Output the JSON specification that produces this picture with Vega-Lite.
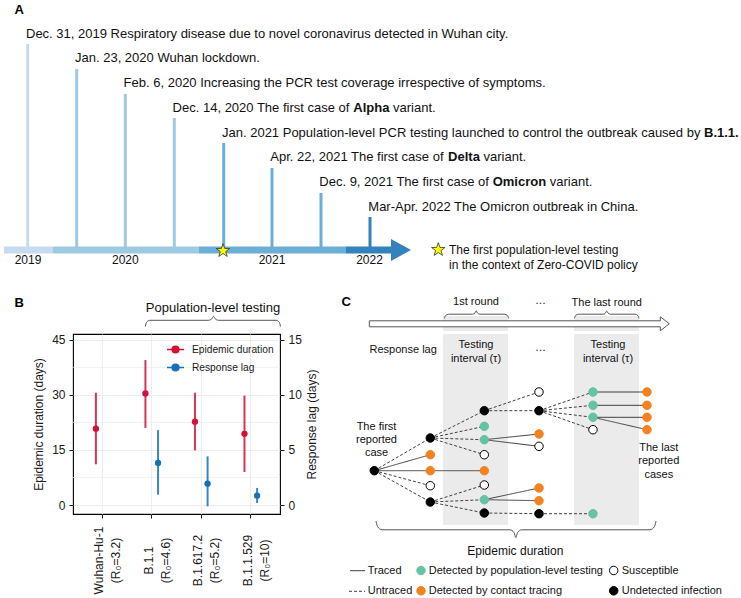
{
  "$schema": "https://vega.github.io/schema/vega-lite/v6.json",
  "padding": 0,
  "spacing": 0,
  "background": "#ffffff",
  "config": {
    "font": "Liberation Sans",
    "view": {"stroke": null},
    "axis": {"labelColor": "#1a1a1a", "titleColor": "#1a1a1a", "tickColor": "#1a1a1a", "titleFontWeight": "normal"}
  },
  "resolve": {"scale": {"color": "independent", "fill": "independent", "stroke": "independent", "strokeDash": "independent"}, "legend": {"color": "independent"}},
  "datasets": {
    "a_bandtops": [
      {"x": 442, "x2": 507, "y": 316, "y2": 331},
      {"x": 573, "x2": 638, "y": 316, "y2": 331}
    ],
    "a_bar": [
      {"period": "2019", "x": 3, "x2": 51.5, "y": 250},
      {"period": "2020", "x": 51.5, "x2": 198, "y": 250},
      {"period": "2021", "x": 198, "x2": 345, "y": 250},
      {"period": "2022", "x": 345, "x2": 392, "y": 250}
    ],
    "a_events": [
      {"period": "2019", "x": 26.7, "y": 44, "y2": 250},
      {"period": "2020", "x": 75.7, "y": 69, "y2": 250},
      {"period": "2020", "x": 124.3, "y": 94, "y2": 250},
      {"period": "2020", "x": 173.3, "y": 118, "y2": 250},
      {"period": "2021", "x": 222.7, "y": 143, "y2": 250},
      {"period": "2021", "x": 271, "y": 168, "y2": 250},
      {"period": "2021", "x": 320, "y": 193, "y2": 250},
      {"period": "2022", "x": 369, "y": 217, "y2": 250}
    ],
    "a_arrowhead": [{"period": "2022", "x": 400, "y": 250}],
    "a_stars": [{"x": 222, "y": 250.7}, {"x": 437.3, "y": 249.7}],
    "a_text": [
      {"x": 25, "y": 33.5, "label": "Dec. 31, 2019 Respiratory disease due to novel coronavirus detected in Wuhan city."},
      {"x": 74, "y": 58.3, "label": "Jan. 23, 2020 Wuhan lockdown."},
      {"x": 122.6, "y": 83, "label": "Feb. 6, 2020 Increasing the PCR test coverage irrespective of symptoms."},
      {"x": 171.6, "y": 107.8, "label": "Dec. 14, 2020 The first case of"},
      {"x": 392, "y": 107.8, "label": "variant."},
      {"x": 221, "y": 132.5, "label": "Jan. 2021 Population-level PCR testing launched to control the outbreak caused by"},
      {"x": 269.3, "y": 157.2, "label": "Apr. 22, 2021 The first case of"},
      {"x": 482.5, "y": 157.2, "label": "variant."},
      {"x": 318.3, "y": 182, "label": "Dec. 9, 2021 The first case of"},
      {"x": 548.8, "y": 182, "label": "variant."},
      {"x": 367.3, "y": 206.7, "label": "Mar-Apr. 2022 The Omicron outbreak in China."}
    ],
    "a_bold": [
      {"x": 352.3, "y": 107.8, "label": "Alpha"},
      {"x": 703, "y": 132.5, "label": "B.1.1."},
      {"x": 447.1, "y": 157.2, "label": "Delta"},
      {"x": 491.7, "y": 182, "label": "Omicron"}
    ],
    "a_years": [
      {"x": 27, "y": 260, "label": "2019"},
      {"x": 124.3, "y": 260, "label": "2020"},
      {"x": 271, "y": 260, "label": "2021"},
      {"x": 368.5, "y": 260, "label": "2022"}
    ],
    "a_notes": [
      {"x": 448, "y": 249.5, "label": "The first population-level testing"},
      {"x": 448, "y": 265, "label": "in the context of Zero-COVID policy"}
    ],
    "a_letters": [
      {"x": 13.5, "y": 9.5, "label": "A"},
      {"x": 13.5, "y": 302.7, "label": "B"},
      {"x": 340.5, "y": 302, "label": "C"}
    ],
    "a_poptitle": [{"x": 212, "y": 307.7, "label": "Population-level testing"}],
    "a_cheaders": [
      {"x": 475, "y": 302, "label": "1st round"},
      {"x": 539.5, "y": 301, "label": "…"},
      {"x": 605.7, "y": 303, "label": "The last round"}
    ],
    "a_braces": [
      {"brace": "pop", "x": 144.3, "y": 326.5}, {"brace": "pop", "x": 145.6, "y": 322.2}, {"brace": "pop", "x": 149, "y": 320.3},
      {"brace": "pop", "x": 207.5, "y": 320.3}, {"brace": "pop", "x": 210.8, "y": 318.8}, {"brace": "pop", "x": 212.5, "y": 316.3},
      {"brace": "pop", "x": 214.2, "y": 318.8}, {"brace": "pop", "x": 217.5, "y": 320.3}, {"brace": "pop", "x": 275, "y": 320.3},
      {"brace": "pop", "x": 278.3, "y": 322.2}, {"brace": "pop", "x": 279.5, "y": 326.5},
      {"brace": "r1", "x": 443.3, "y": 318.5}, {"brace": "r1", "x": 444.5, "y": 315.6}, {"brace": "r1", "x": 447.5, "y": 314.2},
      {"brace": "r1", "x": 471.5, "y": 314.2}, {"brace": "r1", "x": 474, "y": 312.9}, {"brace": "r1", "x": 475.2, "y": 310.8},
      {"brace": "r1", "x": 476.4, "y": 312.9}, {"brace": "r1", "x": 479, "y": 314.2}, {"brace": "r1", "x": 503.5, "y": 314.2},
      {"brace": "r1", "x": 506.5, "y": 315.6}, {"brace": "r1", "x": 507.7, "y": 318.5},
      {"brace": "rl", "x": 573.3, "y": 318.5}, {"brace": "rl", "x": 574.5, "y": 315.6}, {"brace": "rl", "x": 577.5, "y": 314.2},
      {"brace": "rl", "x": 602, "y": 314.2}, {"brace": "rl", "x": 604.5, "y": 312.9}, {"brace": "rl", "x": 605.7, "y": 311},
      {"brace": "rl", "x": 606.9, "y": 312.9}, {"brace": "rl", "x": 609.4, "y": 314.2}, {"brace": "rl", "x": 634, "y": 314.2},
      {"brace": "rl", "x": 636.9, "y": 315.6}, {"brace": "rl", "x": 638, "y": 318.5}
    ],
    "a_arrowc": [{"x": 518.3, "y": 323.8}],
    "b_minor": [{"v": 7.5}, {"v": 22.5}, {"v": 37.5}],
    "b_data": [
      {"xlabel": "Wuhan-Hu-1 (R₀=3.2)", "series": "Epidemic duration", "mid": 20.8, "lo": 11.1, "hi": 30.6},
      {"xlabel": "B.1.1 (R₀=4.6)", "series": "Epidemic duration", "mid": 30.4, "lo": 21.0, "hi": 39.5},
      {"xlabel": "B.1.617.2 (R₀=5.2)", "series": "Epidemic duration", "mid": 22.7, "lo": 14.9, "hi": 30.6},
      {"xlabel": "B.1.1.529 (R₀=10)", "series": "Epidemic duration", "mid": 19.4, "lo": 9.0, "hi": 29.8},
      {"xlabel": "B.1.1 (R₀=4.6)", "series": "Response lag", "mid": 3.82, "lo": 0.94, "hi": 6.8},
      {"xlabel": "B.1.617.2 (R₀=5.2)", "series": "Response lag", "mid": 1.94, "lo": -0.12, "hi": 4.42},
      {"xlabel": "B.1.1.529 (R₀=10)", "series": "Response lag", "mid": 0.85, "lo": 0.18, "hi": 1.55}
    ],
    "c_bands": [
      {"x": 442, "x2": 507, "y": 331, "y2": 522},
      {"x": 573, "x2": 638, "y": 331, "y2": 522}
    ],
    "c_edges": [
      {"x": 373.3, "y": 467.7, "x2": 429.3, "y2": 435, "type": "Untraced"},
      {"x": 373.3, "y": 467.7, "x2": 429.3, "y2": 451.7, "type": "Traced"},
      {"x": 373.3, "y": 467.7, "x2": 429.3, "y2": 467.7, "type": "Traced"},
      {"x": 373.3, "y": 467.7, "x2": 429.3, "y2": 482.7, "type": "Untraced"},
      {"x": 373.3, "y": 467.7, "x2": 429.3, "y2": 499, "type": "Untraced"},
      {"x": 429.3, "y": 435, "x2": 483.3, "y2": 407.7, "type": "Untraced"},
      {"x": 429.3, "y": 435, "x2": 483.3, "y2": 423.3, "type": "Untraced"},
      {"x": 429.3, "y": 435, "x2": 483.3, "y2": 436.7, "type": "Untraced"},
      {"x": 429.3, "y": 435, "x2": 483.3, "y2": 451.7, "type": "Untraced"},
      {"x": 429.3, "y": 467.7, "x2": 483.3, "y2": 467.7, "type": "Traced"},
      {"x": 429.3, "y": 499, "x2": 483.3, "y2": 482, "type": "Untraced"},
      {"x": 429.3, "y": 499, "x2": 483.3, "y2": 496.7, "type": "Untraced"},
      {"x": 429.3, "y": 499, "x2": 483.3, "y2": 510, "type": "Untraced"},
      {"x": 483.3, "y": 407.7, "x2": 538, "y2": 389, "type": "Untraced"},
      {"x": 483.3, "y": 407.7, "x2": 538, "y2": 407.7, "type": "Untraced"},
      {"x": 483.3, "y": 436.7, "x2": 538, "y2": 431, "type": "Traced"},
      {"x": 483.3, "y": 436.7, "x2": 538, "y2": 443.3, "type": "Traced"},
      {"x": 483.3, "y": 496.7, "x2": 538, "y2": 485, "type": "Traced"},
      {"x": 483.3, "y": 496.7, "x2": 538, "y2": 497.7, "type": "Traced"},
      {"x": 483.3, "y": 510, "x2": 538, "y2": 510.7, "type": "Untraced"},
      {"x": 538, "y": 407.7, "x2": 592, "y2": 389, "type": "Untraced"},
      {"x": 538, "y": 407.7, "x2": 592, "y2": 402.3, "type": "Untraced"},
      {"x": 538, "y": 407.7, "x2": 592, "y2": 414.3, "type": "Untraced"},
      {"x": 538, "y": 407.7, "x2": 592, "y2": 426.7, "type": "Untraced"},
      {"x": 538, "y": 510.7, "x2": 592, "y2": 510.7, "type": "Untraced"},
      {"x": 592, "y": 389, "x2": 646, "y2": 389, "type": "Traced"},
      {"x": 592, "y": 402.3, "x2": 646, "y2": 402.3, "type": "Traced"},
      {"x": 592, "y": 414.3, "x2": 646, "y2": 414.3, "type": "Traced"},
      {"x": 592, "y": 414.3, "x2": 646, "y2": 426.7, "type": "Traced"}
    ],
    "c_nodes": [
      {"x": 373.3, "y": 467.7, "status": "Undetected infection"},
      {"x": 429.3, "y": 435, "status": "Undetected infection"},
      {"x": 429.3, "y": 451.7, "status": "Detected by contact tracing"},
      {"x": 429.3, "y": 467.7, "status": "Detected by contact tracing"},
      {"x": 429.3, "y": 482.7, "status": "Susceptible"},
      {"x": 429.3, "y": 499, "status": "Undetected infection"},
      {"x": 483.3, "y": 407.7, "status": "Undetected infection"},
      {"x": 483.3, "y": 423.3, "status": "Detected by population-level testing"},
      {"x": 483.3, "y": 436.7, "status": "Detected by population-level testing"},
      {"x": 483.3, "y": 451.7, "status": "Susceptible"},
      {"x": 483.3, "y": 467.7, "status": "Detected by contact tracing"},
      {"x": 483.3, "y": 482, "status": "Susceptible"},
      {"x": 483.3, "y": 496.7, "status": "Detected by population-level testing"},
      {"x": 483.3, "y": 510, "status": "Undetected infection"},
      {"x": 538, "y": 389, "status": "Susceptible"},
      {"x": 538, "y": 407.7, "status": "Undetected infection"},
      {"x": 538, "y": 431, "status": "Detected by contact tracing"},
      {"x": 538, "y": 443.3, "status": "Susceptible"},
      {"x": 538, "y": 485, "status": "Detected by contact tracing"},
      {"x": 538, "y": 497.7, "status": "Detected by contact tracing"},
      {"x": 538, "y": 510.7, "status": "Undetected infection"},
      {"x": 592, "y": 389, "status": "Detected by population-level testing"},
      {"x": 592, "y": 402.3, "status": "Detected by population-level testing"},
      {"x": 592, "y": 414.3, "status": "Detected by population-level testing"},
      {"x": 592, "y": 426.7, "status": "Susceptible"},
      {"x": 592, "y": 510.7, "status": "Detected by population-level testing"},
      {"x": 646, "y": 389, "status": "Detected by contact tracing"},
      {"x": 646, "y": 402.3, "status": "Detected by contact tracing"},
      {"x": 646, "y": 414.3, "status": "Detected by contact tracing"},
      {"x": 646, "y": 426.7, "status": "Detected by contact tracing"}
    ],
    "c_text": [
      {"x": 402.2, "y": 347, "label": "Response lag"},
      {"x": 475, "y": 342.3, "label": "Testing"},
      {"x": 475, "y": 355.7, "label": "interval (τ)"},
      {"x": 607, "y": 342.3, "label": "Testing"},
      {"x": 607, "y": 355.7, "label": "interval (τ)"},
      {"x": 539.5, "y": 344.5, "label": "…"},
      {"x": 375.5, "y": 424, "label": "The first"},
      {"x": 375.5, "y": 436.7, "label": "reported"},
      {"x": 375.5, "y": 450, "label": "case"},
      {"x": 657.8, "y": 445, "label": "The last"},
      {"x": 657.8, "y": 458.3, "label": "reported"},
      {"x": 657.8, "y": 471.7, "label": "cases"}
    ],
    "c_epi": [{"x": 514.3, "y": 547.7, "label": "Epidemic duration"}],
    "c_brace": [
      {"x": 375, "y": 518}, {"x": 376.5, "y": 523.5}, {"x": 381, "y": 526.8}, {"x": 509, "y": 526.8},
      {"x": 513, "y": 529.5}, {"x": 514.8, "y": 534.5}, {"x": 516.6, "y": 529.5}, {"x": 520.6, "y": 526.8},
      {"x": 649, "y": 526.8}, {"x": 653.5, "y": 523.5}, {"x": 655, "y": 518}
    ],
    "c_legend_lines": [
      {"x": 349, "x2": 364, "y": 567.7, "type": "Traced"},
      {"x": 348, "x2": 364, "y": 588.3, "type": "Untraced"}
    ],
    "c_legend_nodes": [
      {"x": 420, "y": 567.5, "status": "Detected by population-level testing"},
      {"x": 420, "y": 587.8, "status": "Detected by contact tracing"},
      {"x": 612.7, "y": 567.5, "status": "Susceptible"},
      {"x": 612.7, "y": 587.8, "status": "Undetected infection"}
    ],
    "c_legend_text": [
      {"x": 366.7, "y": 567.7, "label": "Traced"},
      {"x": 366.7, "y": 588.3, "label": "Untraced"},
      {"x": 427.7, "y": 567.7, "label": "Detected by population-level testing"},
      {"x": 427.7, "y": 588.3, "label": "Detected by contact tracing"},
      {"x": 620.7, "y": 567.7, "label": "Susceptible"},
      {"x": 620.7, "y": 588.3, "label": "Undetected infection"}
    ]
  },
  "vconcat": [
    {
      "width": 741,
      "height": 331,
      "encoding": {
        "x": {"field": "x", "type": "quantitative", "scale": {"domain": [0, 741], "nice": false, "zero": false}, "axis": null},
        "y": {"field": "y", "type": "quantitative", "scale": {"domain": [0, 331], "nice": false, "zero": false, "reverse": true}, "axis": null}
      },
      "layer": [
        {"data": {"name": "a_bandtops"}, "mark": {"type": "rect", "color": "#ebebeb"}, "encoding": {"x2": {"field": "x2"}, "y2": {"field": "y2"}}},
        {"data": {"name": "a_events"}, "mark": {"type": "rule", "strokeWidth": 3},
         "encoding": {"y2": {"field": "y2"}, "color": {"field": "period", "type": "nominal", "scale": {"domain": ["2019", "2020", "2021", "2022"], "range": ["#c6dbef", "#9ecae1", "#6baed6", "#3182bd"]}, "legend": null}}},
        {"data": {"name": "a_bar"}, "mark": {"type": "rule", "strokeWidth": 7},
         "encoding": {"x2": {"field": "x2"}, "color": {"field": "period", "type": "nominal", "scale": {"domain": ["2019", "2020", "2021", "2022"], "range": ["#c6dbef", "#9ecae1", "#6baed6", "#3182bd"]}, "legend": null}}},
        {"data": {"name": "a_arrowhead"}, "mark": {"type": "point", "shape": "M-1,-1.1L1,0L-1,1.1Z", "size": 400, "filled": true, "opacity": 1},
         "encoding": {"color": {"field": "period", "type": "nominal", "scale": {"domain": ["2019", "2020", "2021", "2022"], "range": ["#c6dbef", "#9ecae1", "#6baed6", "#3182bd"]}, "legend": null}}},
        {"data": {"name": "a_stars"}, "mark": {"type": "point", "shape": "M0,-1L0.235,-0.324L0.951,-0.309L0.38,0.124L0.588,0.809L0,0.4L-0.588,0.809L-0.38,0.124L-0.951,-0.309L-0.235,-0.324Z", "size": 200, "filled": true, "fill": "#ffff00", "stroke": "#333333", "strokeWidth": 0.8, "opacity": 1}},
        {"data": {"name": "a_text"}, "mark": {"type": "text", "align": "left", "baseline": "middle", "fontSize": 13, "color": "#111111"}, "encoding": {"text": {"field": "label"}}},
        {"data": {"name": "a_bold"}, "mark": {"type": "text", "align": "left", "baseline": "middle", "fontSize": 13, "fontWeight": "bold", "color": "#111111"}, "encoding": {"text": {"field": "label"}}},
        {"data": {"name": "a_years"}, "mark": {"type": "text", "align": "center", "baseline": "middle", "fontSize": 12, "color": "#111111"}, "encoding": {"text": {"field": "label"}}},
        {"data": {"name": "a_notes"}, "mark": {"type": "text", "align": "left", "baseline": "middle", "fontSize": 12, "color": "#111111"}, "encoding": {"text": {"field": "label"}}},
        {"data": {"name": "a_letters"}, "mark": {"type": "text", "align": "left", "baseline": "middle", "fontSize": 13, "fontWeight": "bold", "color": "#000000"}, "encoding": {"text": {"field": "label"}}},
        {"data": {"name": "a_poptitle"}, "mark": {"type": "text", "align": "center", "baseline": "middle", "fontSize": 13, "color": "#111111"}, "encoding": {"text": {"field": "label"}}},
        {"data": {"name": "a_cheaders"}, "mark": {"type": "text", "align": "center", "baseline": "middle", "fontSize": 11, "color": "#111111"}, "encoding": {"text": {"field": "label"}}},
        {"data": {"name": "a_braces"}, "mark": {"type": "line", "interpolate": "monotone", "color": "#555555", "strokeWidth": 1}, "encoding": {"detail": {"field": "brace"}}},
        {"data": {"name": "a_arrowc"}, "mark": {"type": "point", "shape": "M-1,-0.02L0.94,-0.02L0.94,-0.0467L1,0L0.94,0.0467L0.94,0.02L-1,0.02Z", "size": 90000, "filled": true, "fill": "#ffffff", "stroke": "#555555", "strokeWidth": 1, "opacity": 1}}
      ]
    },
    {
      "bounds": "flush",
      "spacing": 61,
      "resolve": {"scale": {"color": "independent", "fill": "independent", "stroke": "independent", "strokeDash": "independent"}, "legend": {"color": "independent"}},
      "hconcat": [
        {"width": 11, "height": 267, "data": {"values": [{}]}, "mark": {"type": "point", "opacity": 0}},
        {
          "width": 207,
          "height": 180,
          "view": {"stroke": "#000000", "strokeWidth": 1.1},
          "layer": [
            {
              "layer": [
                {"data": {"name": "b_minor"}, "mark": {"type": "rule", "color": "#ebebeb", "strokeWidth": 0.7},
                 "encoding": {"y": {"field": "v", "type": "quantitative", "scale": {"domain": [-2.45, 46.6], "nice": false, "zero": false},
                   "axis": {"orient": "left", "values": [0, 15, 30, 45], "title": "Epidemic duration (days)", "titleFontSize": 12, "titlePadding": 6, "labelFontSize": 12, "labelPadding": 4, "tickSize": 4, "domain": false, "grid": true, "gridColor": "#ebebeb", "gridWidth": 0.9}}}},
                {"data": {"name": "b_data"}, "transform": [{"filter": "datum.series === 'Epidemic duration'"}],
                 "mark": {"type": "rule", "strokeWidth": 2, "opacity": 0.85},
                 "encoding": {
                   "x": {"field": "xlabel", "type": "nominal", "sort": null, "scale": {"domain": ["Wuhan-Hu-1 (R₀=3.2)", "B.1.1 (R₀=4.6)", "B.1.617.2 (R₀=5.2)", "B.1.1.529 (R₀=10)"], "paddingInner": 0.49, "paddingOuter": 0.335},
                     "axis": {"title": null, "labelAngle": -90, "labelAlign": "center", "labelBaseline": "middle", "labelPadding": 42, "labelFontSize": 12, "labelLineHeight": 17, "labelOffset": -3, "labelExpr": "split(datum.label, ' ')", "labelOverlap": false, "labelBound": false, "tickSize": 4, "domain": false, "grid": true, "gridColor": "#ebebeb", "gridWidth": 0.9}},
                   "xOffset": {"field": "series", "type": "nominal", "scale": {"domain": ["Epidemic duration", "Response lag"]}},
                   "y": {"field": "lo", "type": "quantitative", "scale": {"domain": [-2.45, 46.6], "nice": false, "zero": false},
                     "axis": {"orient": "left", "values": [0, 15, 30, 45], "title": "Epidemic duration (days)", "titleFontSize": 12, "titlePadding": 6, "labelFontSize": 12, "labelPadding": 4, "tickSize": 4, "domain": false, "grid": true, "gridColor": "#ebebeb", "gridWidth": 0.9}},
                   "y2": {"field": "hi"},
                   "color": {"field": "series", "type": "nominal", "scale": {"domain": ["Epidemic duration", "Response lag"], "range": ["#d50f38", "#1572b6"]},
                     "legend": {"title": null, "orient": "top-right", "offset": 6, "padding": 0, "labelFontSize": 10.2, "labelColor": "#1a1a1a", "labelOffset": 7, "rowPadding": 1, "symbolType": "M-1,0H1M0.39,0A0.39,0.39,0,1,1,-0.39,0A0.39,0.39,0,1,1,0.39,0Z", "symbolSize": 289, "symbolStrokeWidth": 1.6, "symbolOpacity": 1,
                       "encode": {"symbols": {"update": {"fill": {"signal": "datum.value === 'Epidemic duration' ? '#d50f38' : '#1572b6'"}, "stroke": {"signal": "datum.value === 'Epidemic duration' ? '#d50f38' : '#1572b6'"}}}}}}
                 }},
                {"data": {"name": "b_data"}, "transform": [{"filter": "datum.series === 'Epidemic duration'"}],
                 "mark": {"type": "point", "filled": true, "size": 40, "opacity": 1},
                 "encoding": {
                   "x": {"field": "xlabel", "type": "nominal", "sort": null, "scale": {"domain": ["Wuhan-Hu-1 (R₀=3.2)", "B.1.1 (R₀=4.6)", "B.1.617.2 (R₀=5.2)", "B.1.1.529 (R₀=10)"], "paddingInner": 0.49, "paddingOuter": 0.335}},
                   "xOffset": {"field": "series", "type": "nominal", "scale": {"domain": ["Epidemic duration", "Response lag"]}},
                   "y": {"field": "mid", "type": "quantitative", "scale": {"domain": [-2.45, 46.6], "nice": false, "zero": false}},
                   "color": {"field": "series", "type": "nominal", "scale": {"domain": ["Epidemic duration", "Response lag"], "range": ["#d50f38", "#1572b6"]}}
                 }}
              ]
            },
            {
              "data": {"name": "b_data"},
              "transform": [{"filter": "datum.series === 'Response lag'"}],
              "layer": [
                {"mark": {"type": "rule", "strokeWidth": 2, "opacity": 0.85},
                 "encoding": {
                   "x": {"field": "xlabel", "type": "nominal", "sort": null},
                   "xOffset": {"field": "series", "type": "nominal"},
                   "y": {"field": "lo", "type": "quantitative", "scale": {"domain": [-0.817, 15.533], "nice": false, "zero": false},
                     "axis": {"orient": "right", "values": [0, 5, 10, 15], "title": "Response lag (days)", "titleAngle": -90, "titleBaseline": "top", "titleFontSize": 12, "titlePadding": 5, "labelFontSize": 12, "labelPadding": 4, "tickSize": 4, "domain": false, "grid": false}},
                   "y2": {"field": "hi"},
                   "color": {"field": "series", "type": "nominal"}
                 }},
                {"mark": {"type": "point", "filled": true, "size": 40, "opacity": 1},
                 "encoding": {
                   "x": {"field": "xlabel", "type": "nominal", "sort": null},
                   "xOffset": {"field": "series", "type": "nominal"},
                   "y": {"field": "mid", "type": "quantitative"},
                   "color": {"field": "series", "type": "nominal"}
                 }}
              ]
            }
          ],
          "resolve": {"scale": {"y": "independent"}}
        },
        {
          "width": 401,
          "height": 267,
          "encoding": {
            "x": {"field": "x", "type": "quantitative", "scale": {"domain": [340, 741], "nice": false, "zero": false}, "axis": null},
            "y": {"field": "y", "type": "quantitative", "scale": {"domain": [331, 598], "nice": false, "zero": false, "reverse": true}, "axis": null}
          },
          "layer": [
            {"data": {"name": "c_bands"}, "mark": {"type": "rect", "color": "#ebebeb"}, "encoding": {"x2": {"field": "x2"}, "y2": {"field": "y2"}}},
            {"data": {"name": "c_edges"}, "mark": {"type": "rule", "strokeWidth": 1, "color": "#404040"},
             "encoding": {"x2": {"field": "x2"}, "y2": {"field": "y2"}, "strokeDash": {"field": "type", "type": "nominal", "scale": {"domain": ["Traced", "Untraced"], "range": [[1, 0], [3, 2]]}, "legend": null}}},
            {"data": {"name": "c_nodes"}, "mark": {"type": "point", "shape": "circle", "size": 72, "filled": true, "strokeWidth": 1, "opacity": 1},
             "encoding": {
               "fill": {"field": "status", "type": "nominal", "scale": {"domain": ["Detected by population-level testing", "Detected by contact tracing", "Susceptible", "Undetected infection"], "range": ["#66c2a5", "#f5821f", "#ffffff", "#000000"]}, "legend": null},
               "stroke": {"field": "status", "type": "nominal", "scale": {"domain": ["Detected by population-level testing", "Detected by contact tracing", "Susceptible", "Undetected infection"], "range": ["#66c2a5", "#f5821f", "#000000", "#000000"]}, "legend": null}
             }},
            {"data": {"name": "c_text"}, "mark": {"type": "text", "align": "center", "baseline": "middle", "fontSize": 11, "color": "#111111"}, "encoding": {"text": {"field": "label"}}},
            {"data": {"name": "c_epi"}, "mark": {"type": "text", "align": "center", "baseline": "middle", "fontSize": 12, "color": "#111111"}, "encoding": {"text": {"field": "label"}}},
            {"data": {"name": "c_brace"}, "mark": {"type": "line", "interpolate": "monotone", "color": "#555555", "strokeWidth": 1}, "encoding": {}},
            {"data": {"name": "c_legend_lines"}, "mark": {"type": "rule", "strokeWidth": 1, "color": "#404040"},
             "encoding": {"x2": {"field": "x2"}, "strokeDash": {"field": "type", "type": "nominal", "scale": {"domain": ["Traced", "Untraced"], "range": [[1, 0], [3, 2]]}, "legend": null}}},
            {"data": {"name": "c_legend_nodes"}, "mark": {"type": "point", "shape": "circle", "size": 72, "filled": true, "strokeWidth": 1, "opacity": 1},
             "encoding": {
               "fill": {"field": "status", "type": "nominal", "scale": {"domain": ["Detected by population-level testing", "Detected by contact tracing", "Susceptible", "Undetected infection"], "range": ["#66c2a5", "#f5821f", "#ffffff", "#000000"]}, "legend": null},
               "stroke": {"field": "status", "type": "nominal", "scale": {"domain": ["Detected by population-level testing", "Detected by contact tracing", "Susceptible", "Undetected infection"], "range": ["#66c2a5", "#f5821f", "#000000", "#000000"]}, "legend": null}
             }},
            {"data": {"name": "c_legend_text"}, "mark": {"type": "text", "align": "left", "baseline": "middle", "fontSize": 11, "color": "#111111"}, "encoding": {"text": {"field": "label"}}}
          ]
        }
      ]
    }
  ]
}
